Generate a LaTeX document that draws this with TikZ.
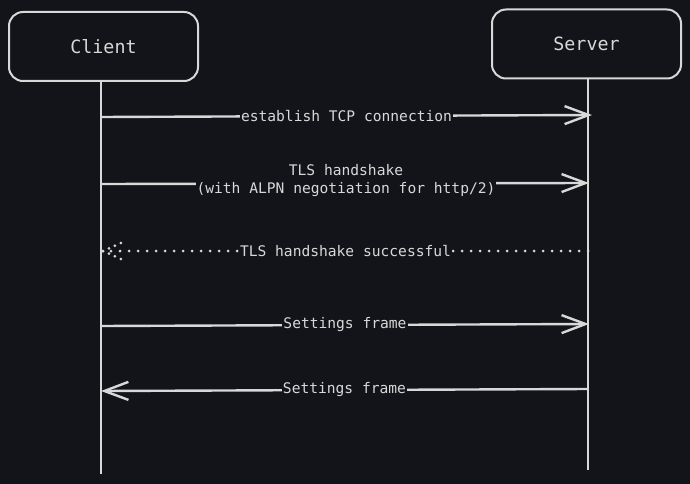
\documentclass[tikz,border=0pt]{standalone}
\usepackage{fontspec}
\setmonofont{DejaVu Sans Mono}
\usetikzlibrary{arrows.meta}
\definecolor{bg}{HTML}{121419}
\definecolor{ink}{HTML}{D8D8D8}
\tikzset{
  actor/.style={draw=ink, line width=2pt, rounded corners=14pt, minimum width=189pt, minimum height=69pt, text=ink, font=\ttfamily\fontsize{18.3}{21}\selectfont, inner sep=0pt},
  lifeline/.style={draw=ink, line width=2.2pt},
  msg/.style={draw=ink, line width=2.4pt, -{Straight Barb[length=24pt,width=18pt,line width=2.4pt]}},
  dotmsg/.style={draw=ink, line width=3pt, line cap=round, dash pattern=on 0pt off 9pt},
  dothead/.style={draw=ink, line width=3pt, line cap=round, dash pattern=on 0pt off 6.5pt},
  lbl/.style={fill=bg, text=ink, font=\ttfamily\fontsize{14.6}{18}\selectfont, inner sep=1pt, align=center}
}
\begin{document}
\begin{tikzpicture}[x=1pt,y=-1pt]
\fill[bg] (0,0) rectangle (690,484);
\useasboundingbox (0,0) rectangle (690,484);
\node[actor] (client) at (103.5,46.5) {Client};
\node[actor] (server) at (586.5,44) {Server};
\coordinate (cend) at (101,474);
\coordinate (send) at (588,470);
\draw[lifeline] (client.south -| cend) -- (cend);
\draw[lifeline] (server.south -| send) -- (send);
% messages
\coordinate (c1) at (101,117); \coordinate (s1) at (592,115);
\coordinate (c2) at (101,184); \coordinate (s2) at (589,183);
\coordinate (c3) at (103,251); \coordinate (s3) at (588,251);
\coordinate (c4) at (101,326); \coordinate (s4) at (589,324);
\coordinate (c5) at (101,391); \coordinate (s5) at (588,389);
\coordinate (h3a) at (123,242); \coordinate (h3b) at (123,260);
\draw[msg] (c1) -- node[lbl] {establish TCP connection} (s1);
\draw[msg] (c2) -- (s2);
\node[lbl] (l2) at (346,181) {TLS handshake\\(with ALPN negotiation for http/2)};
\draw[dotmsg] (s3) -- node[lbl] {TLS handshake successful} (c3);
\draw[dothead] (c3) -- (h3a);
\draw[dothead] (c3) -- (h3b);
\draw[msg] (c4) -- node[lbl] {Settings frame} (s4);
\draw[msg] (s5) -- node[lbl] {Settings frame} (c5);
\end{tikzpicture}
\end{document}
